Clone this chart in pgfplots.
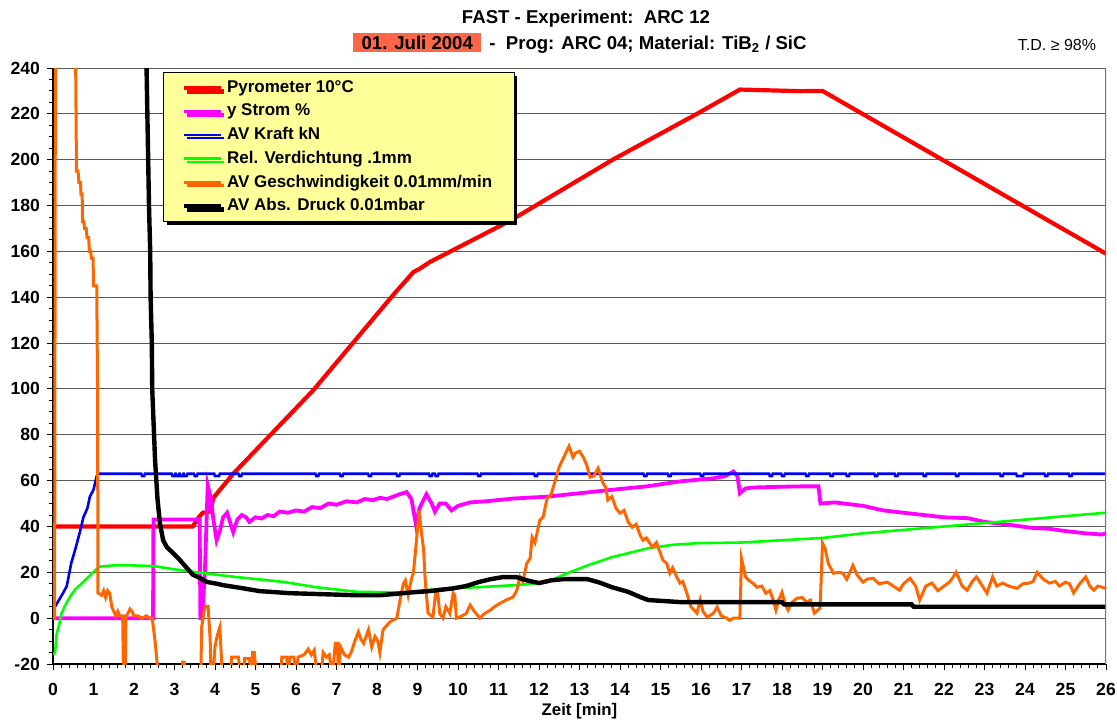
\documentclass[border=0pt]{standalone}
\usepackage{pgfplots}
\pgfplotsset{compat=1.18}
\usepackage{fontspec}
\setmainfont{Liberation Sans}
\usetikzlibrary{shadows}
\definecolor{legyellow}{RGB}{255,255,153}
\definecolor{datebox}{RGB}{255,102,72}
\definecolor{pyro}{RGB}{255,0,0}
\definecolor{strom}{RGB}{255,0,255}
\definecolor{kraft}{RGB}{0,0,240}
\definecolor{verd}{RGB}{0,255,0}
\definecolor{gesch}{RGB}{255,102,0}

\begin{document}
\begin{tikzpicture}
\begin{axis}[
    scale only axis, width=526.5pt, height=298pt,
    xmin=0, xmax=26, ymin=-20, ymax=240,
    axis x line*=bottom, axis y line*=left,
    axis line style={black, line width=0.6pt},
    xtick={0,1,...,26}, ytick={-20,0,...,240},
    xticklabels={0,1,2,3,4,5,6,7,8,9,10,11,12,13,14,15,16,17,18,19,20,21,22,23,24,25,26},
    yticklabels={-20,0,20,40,60,80,100,120,140,160,180,200,220,240},
    minor x tick num=4, minor y tick num=3,
    tick align=outside, major tick length=3pt, minor tick length=2pt,
    tick style={black, line width=0.5pt},
    ymajorgrids, grid style={black!65, line width=0.5pt},
    ticklabel style={font=\bfseries\fontsize{8.8}{10}\selectfont},
    xticklabel style={yshift=-3pt},
    xlabel={Zeit [min]}, xlabel style={font=\bfseries\fontsize{8.4}{10}\selectfont, yshift=3pt},
    legend image code/.code={\draw[#1] (0pt,0pt) -- (18.5pt,0pt);},
    legend cell align=left,
    legend style={at={(0.1045,0.993)}, anchor=north west,
        fill=legyellow, draw=black, line width=0.6pt,
        font=\bfseries\fontsize{8.5}{9.5}\selectfont,
        row sep=0.2pt, inner xsep=9pt, inner ysep=2pt,
        drop shadow={shadow xshift=1.6pt, shadow yshift=-1.6pt, fill=black, opacity=1}},
]
% Pyrometer 10 C
\addplot[pyro, line width=2.1pt] coordinates {
(0,40)(3.45,40)(3.6,44)(3.7,46)(3.88,46.5)(3.96,52.5)(4.45,63)(6.43,99.5)(8.4,141)
(8.9,151)(9.06,152.5)(9.31,155.4)(11.3,173.5)(13.8,199.8)(15.9,220)(16.96,230.6)
(18.44,229.9)(19.0,230)(26,159)};
\addlegendentry{Pyrometer 10°C}
% y Strom
\addplot[strom, line width=1.9pt] coordinates {
(0,0)(2.47,0)(2.48,43)(3.62,43)(3.64,0)(3.68,0)(3.75,20)(3.82,58)(3.9,52)(3.96,43)
(4.04,34)(4.12,38)(4.2,44)(4.3,46)(4.37,42)(4.45,37.5)(4.55,43)(4.66,45)(4.77,44)
(4.85,42)(5.0,44)(5.15,43.5)(5.3,45)(5.45,44.5)(5.6,46.5)(5.8,46)(6.0,47)(6.2,46.5)
(6.4,48.5)(6.6,48)(6.8,50)(7.0,49.5)(7.25,51)(7.5,50.5)(7.7,52)(7.9,51.5)
(8.07,52.5)(8.25,52)(8.4,53)(8.55,54)(8.73,55)(8.85,52)(8.96,41)(9.05,48)(9.22,54)
(9.35,50)(9.43,46.5)(9.55,50)(9.7,50)(9.84,47)(10.0,49)(10.3,50.5)(10.7,51)(11.37,52.2)
(12.2,53)(13.0,54.5)(13.8,56)(14.66,57.5)(15.5,59.7)(16.3,61)(16.6,62)(16.8,64)
(16.9,62)(16.96,54.5)(17.1,56.6)(17.3,57)(17.9,57.3)(18.5,57.5)(18.9,57.5)(18.95,50)
(19.3,50.5)(20,49)(20.5,47)(21.1,45.8)(21.5,45)(22.0,44)(22.6,43.6)(23,42)(23.5,41)
(24.2,39.3)(24.6,39)(25,38)(25.5,37)(25.9,36.5)(26,37)};
\addlegendentry{y Strom \%}
% AV Kraft
\addplot[kraft, line width=1.3pt] coordinates {
(0.05,5)(0.15,8)(0.25,11)(0.34,14)(0.45,24)(0.55,30)(0.67,38)(0.75,44)(0.85,48)
(0.91,53)(1.0,56)(1.08,62)(1.12,63)
(2.18,63)(2.2,62)(2.25,62)(2.27,63)(2.93,63)(2.95,62)(3.0,62)(3.02,63)(3.03,63)(3.05,62)
(3.1,62)(3.12,63)(3.13,63)(3.15,62)(3.2,62)(3.22,63)(3.23,63)(3.25,62)(3.3,62)(3.32,63)
(3.48,63)(3.5,62)(3.55,62)(3.57,63)(3.98,63)(4.0,62)(4.1,62)(4.12,63)(4.58,63)(4.6,62)
(4.65,62)(4.67,63)(6.48,63)(6.5,62)(6.55,62)(6.57,63)(7.08,63)(7.1,62)(7.15,62)(7.17,63)
(7.78,63)(7.8,62)(7.85,62)(7.87,63)(8.48,63)(8.5,62)(8.55,62)(8.57,63)(9.28,63)(9.3,62)
(9.35,62)(9.37,63)(9.43,63)(9.45,62)(9.5,62)(9.52,63)(10.48,63)(10.5,62)(10.55,62)
(10.57,63)(11.88,63)(11.9,62)(11.95,62)(11.97,63)(14.58,63)(14.6,62)(14.65,62)(14.67,63)
(15.18,63)(15.2,62)(15.25,62)(15.27,63)(15.98,63)(16.0,62)(16.05,62)(16.07,63)
(17.68,63)(17.7,62)(17.75,62)(17.77,63)(17.98,63)(18.0,62)(18.05,62)(18.07,63)
(18.58,63)(18.6,62)(18.65,62)(18.67,63)(19.18,63)(19.2,62)(19.25,62)(19.27,63)
(19.58,63)(19.6,62)(19.65,62)(19.67,63)(20.28,63)(20.3,62)(20.35,62)(20.37,63)
(20.78,63)(20.8,62)(20.85,62)(20.87,63)(21.48,63)(21.5,62)(21.55,62)(21.57,63)
(22.28,63)(22.3,62)(22.35,62)(22.37,63)(23.38,63)(23.4,62)(23.45,62)(23.47,63)
(23.78,63)(23.8,62)(23.95,62)(23.97,63)(24.48,63)(24.5,62)(24.55,62)(24.57,63)
(25.08,63)(25.1,62)(25.15,62)(25.17,63)(26,63)};
\addlegendentry{AV Kraft kN}
% Rel. Verdichtung
\addplot[verd, line width=1.3pt] coordinates {
(0,-16)(0.05,-15)(0.09,-7)(0.15,-3)(0.21,2)(0.3,5.5)(0.42,9.3)(0.55,12.5)(0.75,15.8)
(1.0,20.2)(1.15,22.5)(1.5,23)(2.0,23)(2.5,22.7)(3.0,21.3)(3.63,19.8)(4.5,18)(5.7,15.8)
(6.5,13.5)(7.5,11.5)(8.6,11.2)(9.7,13)(10.5,13.5)(11.5,14.5)(12.2,15.7)(12.7,19.6)
(13.2,23)(13.8,26.6)(14.7,30.5)(15.3,32)(15.9,32.7)(17.0,33)(18,34)(19,35)(20,37)
(21,38.5)(22,40)(23,41.5)(24,43)(25,44.5)(26,46)};
\addlegendentry{Rel. Verdichtung .1mm}
% AV Geschwindigkeit
\addplot[gesch, line width=1.5pt] coordinates {
(0,0)(0.04,0)(0.06,260)(0.54,260)(0.56,240)(0.58,195)(0.62,195)(0.64,190)(0.68,190)
(0.69,185)(0.72,185)(0.73,173)(0.76,173)(0.78,170)(0.82,170)(0.84,166)(0.88,166)
(0.9,160)(0.93,160)(0.95,157)(0.99,157)(1.0,145)(1.08,145)(1.1,100)(1.11,11)(1.2,10)
(1.25,12)(1.3,9)(1.35,12)(1.4,11)(1.45,5)(1.5,3)(1.55,1)(1.6,3)(1.65,1)(1.72,1)
(1.74,-25)(1.78,-25)(1.8,1)(1.85,2)(1.9,4)(1.95,3)(2.0,1)(2.1,1)(2.2,0)(2.3,1)(2.4,0)
(2.45,0)(2.52,-10)(2.6,-25)(3.18,-25)(3.2,-19.2)(3.24,-19.2)(3.26,-25)(3.65,-25)
(3.67,-4)(3.75,5)(3.83,5)(3.88,-9)(3.9,-25)(3.95,-25)(4.0,-12.5)(4.05,-8)(4.12,-4)
(4.18,-25)(4.38,-25)(4.41,-17)(4.58,-17)(4.62,-25)(4.7,-25)(4.73,-17.5)(4.85,-17.5)
(4.9,-25)(4.93,-15)(4.97,-15)(5.02,-25)(5.62,-25)(5.65,-17)(5.77,-17)(5.8,-25)
(5.85,-17)(5.95,-17)(6.0,-25)(6.05,-17)(6.12,-16.5)(6.2,-16)(6.3,-13.5)(6.38,-16)
(6.45,-14)(6.52,-25)(6.62,-25)(6.67,-15)(6.75,-17)(6.82,-16)(6.9,-25)(6.97,-11)
(7.02,-11)(7.05,-25)(7.1,-12.5)(7.2,-16)(7.3,-17)(7.37,-14.5)(7.46,-9.6)(7.54,-6)
(7.6,-9)(7.67,-11)(7.79,-5)(7.87,-12.5)(7.95,-8)(8.02,-10)(8.07,-15)(8.15,-5)
(8.32,-1.6)(8.49,0)(8.57,8)(8.65,15)(8.7,16.5)(8.77,10)(8.85,17)(8.9,20)(8.97,33)
(9.04,47)(9.1,37)(9.15,30)(9.19,16.6)(9.26,2.2)(9.38,0.5)(9.45,11)(9.5,11)(9.55,2)
(9.63,0)(9.7,5)(9.8,2)(9.88,11)(9.92,10)(9.96,0)(10.1,1)(10.2,2)(10.3,5.7)(10.4,3)
(10.54,0)(10.65,2)(10.8,3.5)(10.9,5)(11.04,6.5)(11.2,8)(11.36,9.2)(11.45,12)(11.53,18)
(11.6,16)(11.7,24)(11.78,26)(11.83,35.3)(11.9,33)(12.02,42.7)(12.1,44)(12.2,52.3)
(12.3,54)(12.4,60)(12.5,66)(12.6,69.8)(12.74,75)(12.84,70.2)(12.9,72)(13.0,72.8)
(13.1,70)(13.18,66.7)(13.26,61.5)(13.35,62)(13.46,65.4)(13.58,58.9)(13.65,57)
(13.7,51.5)(13.8,53)(13.9,48)(14.0,45.8)(14.1,47)(14.2,42)(14.3,39.7)(14.4,41)
(14.5,36)(14.57,34)(14.65,35)(14.8,31)(14.9,33)(15.06,25.3)(15.15,24)(15.23,19.6)
(15.3,22)(15.4,18)(15.48,15.3)(15.55,16)(15.65,10.9)(15.75,5)(15.9,2.2)(15.98,8)
(16.05,3)(16.15,0.4)(16.3,2)(16.4,4.8)(16.5,1)(16.64,0)(16.7,-1)(16.8,0)(16.96,0)
(17.0,26)(17.1,18)(17.17,16.6)(17.3,15)(17.38,13.5)(17.5,14)(17.6,10.9)(17.7,12)
(17.78,8)(17.85,3.5)(17.92,8)(18.0,11.3)(18.08,6)(18.15,3.5)(18.25,7)(18.37,8.7)
(18.5,9)(18.6,7)(18.7,7.9)(18.8,2.2)(18.94,4.4)(19.0,32.7)(19.07,30)(19.14,24)
(19.27,19.6)(19.4,20)(19.5,19.6)(19.6,17)(19.75,23)(19.85,19)(20.0,15.7)(20.1,17)
(20.25,17.4)(20.4,15)(20.6,15.7)(20.75,14)(20.9,12.2)(21.0,15)(21.16,17.4)(21.3,14)
(21.4,7.9)(21.55,14)(21.7,15.3)(21.85,12)(22.0,14)(22.15,16)(22.3,20)(22.45,14)
(22.57,12.2)(22.7,16)(22.8,18)(22.95,14)(23.06,10.9)(23.2,18)(23.3,14)(23.45,15.3)
(23.6,14)(23.8,13)(23.95,15)(24.1,15.3)(24.2,16)(24.3,20)(24.45,17)(24.6,15.3)
(24.75,16)(24.85,14)(25.0,15.7)(25.1,15)(25.2,11)(25.35,15)(25.5,18)(25.6,14)
(25.7,12.2)(25.8,14)(25.9,13.5)(26,13)};
\addlegendentry{AV Geschwindigkeit 0.01mm/min}
% AV Abs. Druck
\addplot[black, line width=2.2pt] coordinates {
(2.29,250)(2.31,240)(2.35,200)(2.37,180)(2.4,160)(2.41,140)(2.44,120)(2.45,100)
(2.52,69)(2.58,52)(2.64,41.4)(2.72,34)(2.81,31)(2.97,28.3)(3.1,26)(3.3,22)(3.45,19)
(3.63,17.5)(3.8,15.8)(4.05,15)(4.2,14.4)(4.7,13)(5.1,11.8)(5.85,10.9)(7.5,10)
(8.07,10)(8.9,11.3)(9.3,11.8)(9.88,13)(10.2,14)(10.5,15.7)(10.8,17)(11.1,17.9)
(11.45,17.9)(11.7,16.5)(12.0,15.3)(12.3,16.5)(12.6,17)(13.2,17)(13.5,15.5)
(13.8,13.5)(14.2,11.5)(14.5,9.2)(14.7,7.9)(15.5,7)(18.0,7)(18.05,6)(21.2,6)
(21.25,5)(26,5)};
\addlegendentry{AV Abs. Druck 0.01mbar}
\draw[black!55, line width=0.6pt] (rel axis cs:1,0) -- (rel axis cs:1,1);
\end{axis}
\node[font=\bfseries\fontsize{9.3}{11}\selectfont] at ([shift={(266.5pt,322.5pt)}]current axis.south west) {FAST - Experiment:\ \ ARC 12};
\node[font=\bfseries\fontsize{9.3}{11}\selectfont, inner sep=0pt] at ([shift={(263.5pt,310.5pt)}]current axis.south west)
  {\setlength{\fboxsep}{1.5pt}\colorbox{datebox}{\ 01. Juli 2004\ }\ \,-\ \ Prog: ARC 04; Material: TiB\textsubscript{2} / SiC};
\node[font=\fontsize{8}{10}\selectfont] at ([shift={(502pt,309.5pt)}]current axis.south west) {T.D. ≥ 98\%};
\pgfresetboundingbox
\path[use as bounding box] (current axis.south west) ++(-26.5pt,-28pt) rectangle ++(558.5pt,360pt);
\end{tikzpicture}
\end{document}
